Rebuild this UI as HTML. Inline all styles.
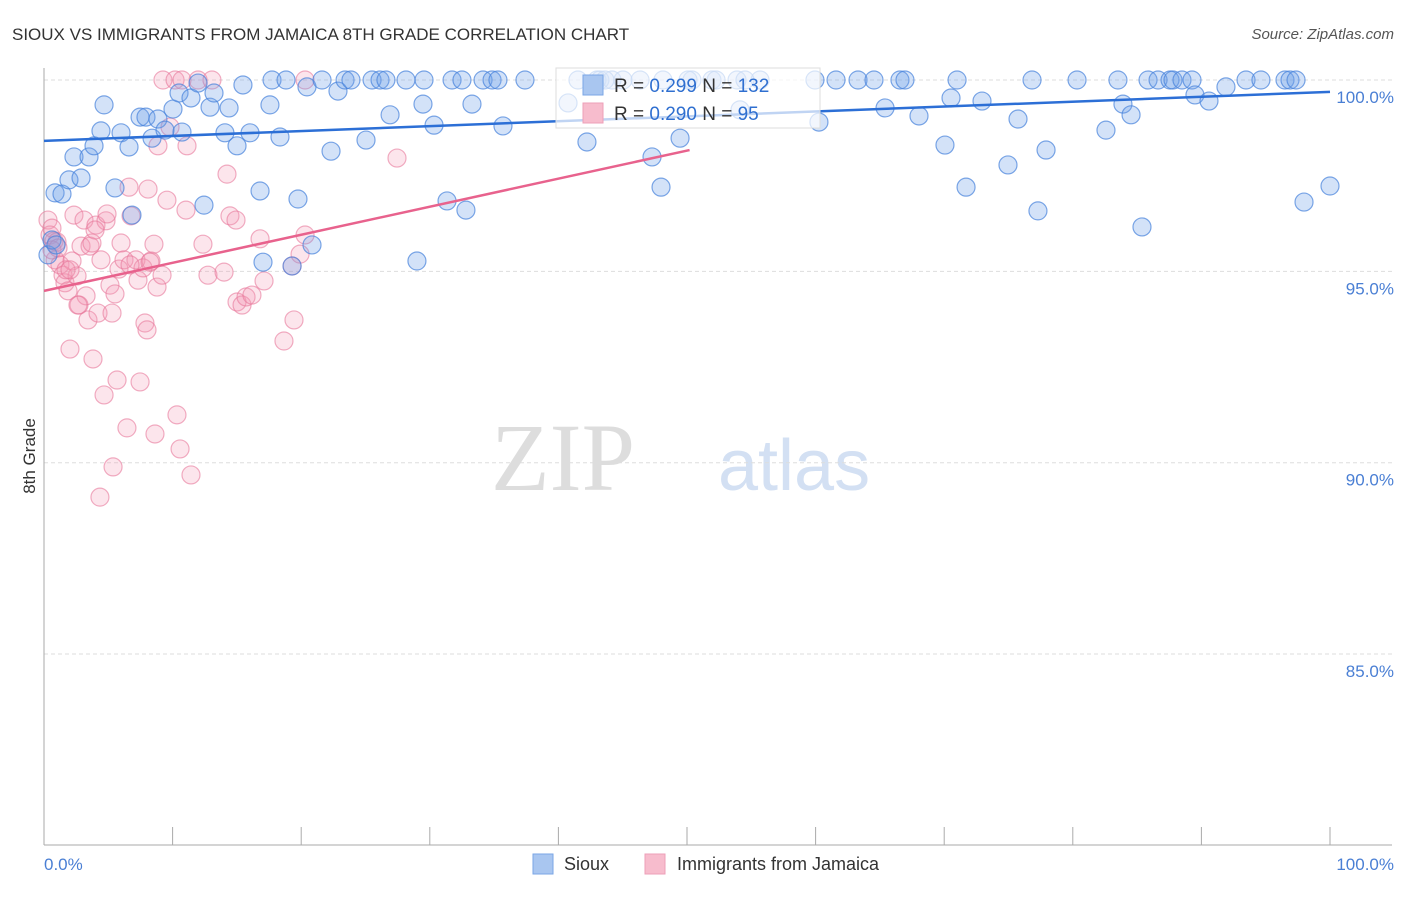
<!DOCTYPE html>
<html><head><meta charset="utf-8"><style>
body{margin:0;background:#fff;font-family:"Liberation Sans",sans-serif}
</style></head><body>
<svg id="c" width="1406" height="892" xmlns="http://www.w3.org/2000/svg">
<text x="12" y="40" font-size="17" fill="#333">SIOUX VS IMMIGRANTS FROM JAMAICA 8TH GRADE CORRELATION CHART</text>
<text x="1394" y="39" font-size="15" fill="#555" text-anchor="end" font-style="italic">Source: ZipAtlas.com</text>
<text x="635" y="490" font-size="96" fill="#ddd" text-anchor="end" font-family="Liberation Serif">ZIP</text>
<text x="718" y="490" font-size="72" fill="#d3e0f3">atlas</text>
<g id="grid"></g>
<line x1="44" y1="68" x2="44" y2="845" stroke="#aaa"/>
<line x1="44" y1="845" x2="1392" y2="845" stroke="#aaa"/>
<text x="35" y="456" font-size="17" fill="#333" text-anchor="middle" transform="rotate(-90 35 456)">8th Grade</text>
<text x="44" y="870" font-size="17" fill="#4a7fd4">0.0%</text>
<text x="1394" y="870" font-size="17" fill="#4a7fd4" text-anchor="end">100.0%</text>
<g id="pts"></g>
<g id="lines"></g>
<g>
<rect x="556" y="68" width="264" height="60" fill="#fff" fill-opacity="0.7" stroke="#ddd"/>
<rect x="583" y="75" width="20" height="20" fill="#a9c6f0" stroke="#7aa6e6"/>
<rect x="583" y="103" width="20" height="20" fill="#f7bccd" stroke="#ee9fb8"/>
<text x="614" y="92" font-size="19" fill="#333">R = <tspan fill="#2f6fd0">0.299</tspan>   N = <tspan fill="#2f6fd0">132</tspan></text>
<text x="614" y="120" font-size="19" fill="#333">R = <tspan fill="#2f6fd0">0.290</tspan>   N = <tspan fill="#2f6fd0"> 95</tspan></text>
</g>
<g>
<rect x="533" y="854" width="20" height="20" fill="#a9c6f0" stroke="#7aa6e6"/>
<text x="564" y="870" font-size="18" fill="#333">Sioux</text>
<rect x="645" y="854" width="20" height="20" fill="#f7bccd" stroke="#ee9fb8"/>
<text x="677" y="870" font-size="18" fill="#333">Immigrants from Jamaica</text>
</g>
</svg>
<script>
const yTicks=[100,95,90,85];
const yTickLabels=["100.0%","95.0%","90.0%","85.0%"];
const xTicks=[0,10,20,30,40,50,60,70,80,90,100];
const siouxX=[0.86,1.40,1.94,2.33,2.88,3.50,3.89,4.43,4.67,5.52,5.99,6.61,6.84,7.47,7.93,8.40,8.86,9.41,10.03,10.50,10.73,11.43,11.98,12.44,12.91,13.22,14.07,14.39,15.01,15.47,16.02,16.80,17.03,17.57,17.73,18.35,18.82,19.29,19.75,20.45,20.84,21.62,22.32,22.86,23.41,23.87,25.04,25.51,26.13,26.59,26.91,28.15,29.47,29.55,30.33,31.34,31.73,32.50,32.81,33.28,34.14,34.84,35.30,35.69,37.40,29.00,40.75,42.22,43.00,44.17,47.28,47.98,49.46,50.39,53.89,54.12,59.95,60.26,61.59,63.30,64.54,65.40,66.56,66.95,68.04,70.06,70.53,71.00,71.70,72.94,74.96,75.74,76.83,77.29,77.92,80.33,82.58,83.51,83.90,84.53,85.38,85.85,86.63,87.56,87.79,88.49,89.27,89.50,90.59,91.91,93.47,94.63,96.50,96.89,97.36,97.98,100,0.31,0.62,0.93,41.52,43.23,46.35,51.94,55.68,54.51,43.62,45.02,48.13,50.08,52.26];
const siouxY=[97.05,97.02,97.39,97.99,97.44,97.99,98.28,98.67,99.35,97.18,98.62,98.25,96.47,99.03,99.03,98.48,98.98,98.69,99.24,99.66,98.64,99.53,99.92,96.73,99.29,99.66,98.62,99.27,98.28,99.87,98.62,97.10,95.24,99.35,100,98.51,100,95.14,96.89,99.82,95.69,100,98.14,99.71,100,100,98.43,100,100,100,99.09,100,99.37,100,98.82,96.84,100,100,96.60,99.37,100,100,100,98.80,100,95.27,99.40,98.38,100,100,97.99,97.20,98.48,100,100,99.22,100,98.90,100,100,100,99.27,100,100,99.06,98.30,99.53,100,97.20,99.45,97.78,98.98,100,96.58,98.17,100,98.69,100,99.37,99.09,96.16,100,100,100,100,100,100,99.61,99.45,99.82,100,100,100,100,100,96.81,97.23,95.43,95.82,95.69,100,100,100,100,100,100,100,100,100,100,100];
const jamX=[0.31,0.47,0.62,0.78,0.86,1.01,1.24,1.48,1.63,1.87,2.02,2.18,2.33,2.57,2.72,2.88,3.11,3.27,3.42,3.58,3.73,3.81,4.04,4.20,4.35,4.43,4.67,4.82,4.90,5.13,5.29,5.37,5.52,5.68,5.83,5.99,6.22,6.45,6.61,6.77,7.15,7.31,7.47,7.70,7.85,8.01,8.09,8.32,8.55,8.63,8.79,8.86,9.18,9.25,9.56,9.80,10.19,10.34,10.58,10.73,11.04,11.12,11.43,11.98,12.36,12.75,13.06,14.00,14.23,14.46,14.93,15.01,15.40,15.71,16.17,16.80,17.11,18.66,19.29,19.44,19.91,20.30,20.30,27.45,0.62,1.09,1.71,2.02,2.64,3.97,6.69,8.24];
const jamY=[96.34,95.95,96.13,95.79,95.30,95.77,95.17,94.90,94.70,94.49,92.97,95.27,96.47,94.88,94.12,95.66,96.34,94.36,93.73,95.66,95.74,92.71,96.21,93.91,89.10,95.30,91.77,96.32,96.50,94.64,93.91,89.89,94.41,92.16,95.06,95.74,95.30,90.91,97.20,96.45,95.30,94.77,92.11,95.09,93.65,93.47,97.15,95.27,95.71,90.75,94.59,98.28,94.90,100,96.86,98.77,100,91.25,90.36,100,96.60,98.28,89.68,100,95.71,94.90,100,94.98,97.54,96.45,96.34,94.20,94.12,94.33,94.38,95.85,94.75,93.18,95.14,93.73,95.45,95.95,100,97.96,95.56,95.61,95.04,95.04,94.12,96.08,95.17,95.24];
const siouxTrend=[[0,98.41],[100,99.69]];
const jamTrend=[[0,94.49],[50.2,98.17]];
const NS="http://www.w3.org/2000/svg";
function sx(v){return 44+v*12.86;}
function sy(v){return 80+(100-v)*38.27;}
function mk(tag,attrs,parent){const e=document.createElementNS(NS,tag);for(const k in attrs)e.setAttribute(k,attrs[k]);parent.appendChild(e);return e;}
const grid=document.getElementById('grid');
yTicks.forEach((t,i)=>{
  const l=mk('line',{x1:44,x2:1392,y1:sy(t),y2:sy(t),stroke:'#ddd','stroke-dasharray':'4,3'},grid);
  
  
  const tx=mk('text',{x:1394,y:sy(t)+23,'font-size':17,fill:'#4a7fd4','text-anchor':'end'},grid);
  tx.textContent=yTickLabels[i];
  
  
});
xTicks.forEach(t=>{
  const l=mk('line',{x1:sx(t),x2:sx(t),y1:827,y2:845,stroke:'#aaa'},grid);
  
  
});
const pts=document.getElementById('pts');
jamX.forEach((x,i)=>{
  const c=mk('circle',{cx:sx(x),cy:sy(jamY[i]),r:9,fill:'rgba(242,150,178,0.25)',stroke:'rgba(232,120,155,0.6)','stroke-width':1.2},pts);
  
  
});
siouxX.forEach((x,i)=>{
  const c=mk('circle',{cx:sx(x),cy:sy(siouxY[i]),r:9,fill:'rgba(110,160,232,0.3)',stroke:'rgba(70,130,220,0.7)','stroke-width':1.2},pts);
  
  
});
const lines=document.getElementById('lines');
const l1=mk('line',{x1:sx(siouxTrend[0][0]),y1:sy(siouxTrend[0][1]),x2:sx(siouxTrend[1][0]),y2:sy(siouxTrend[1][1]),stroke:'#2c6fd6','stroke-width':2.5},lines);


const l2=mk('line',{x1:sx(jamTrend[0][0]),y1:sy(jamTrend[0][1]),x2:sx(jamTrend[1][0]),y2:sy(jamTrend[1][1]),stroke:'#e8628d','stroke-width':2.5},lines);


</script>
</body></html>
